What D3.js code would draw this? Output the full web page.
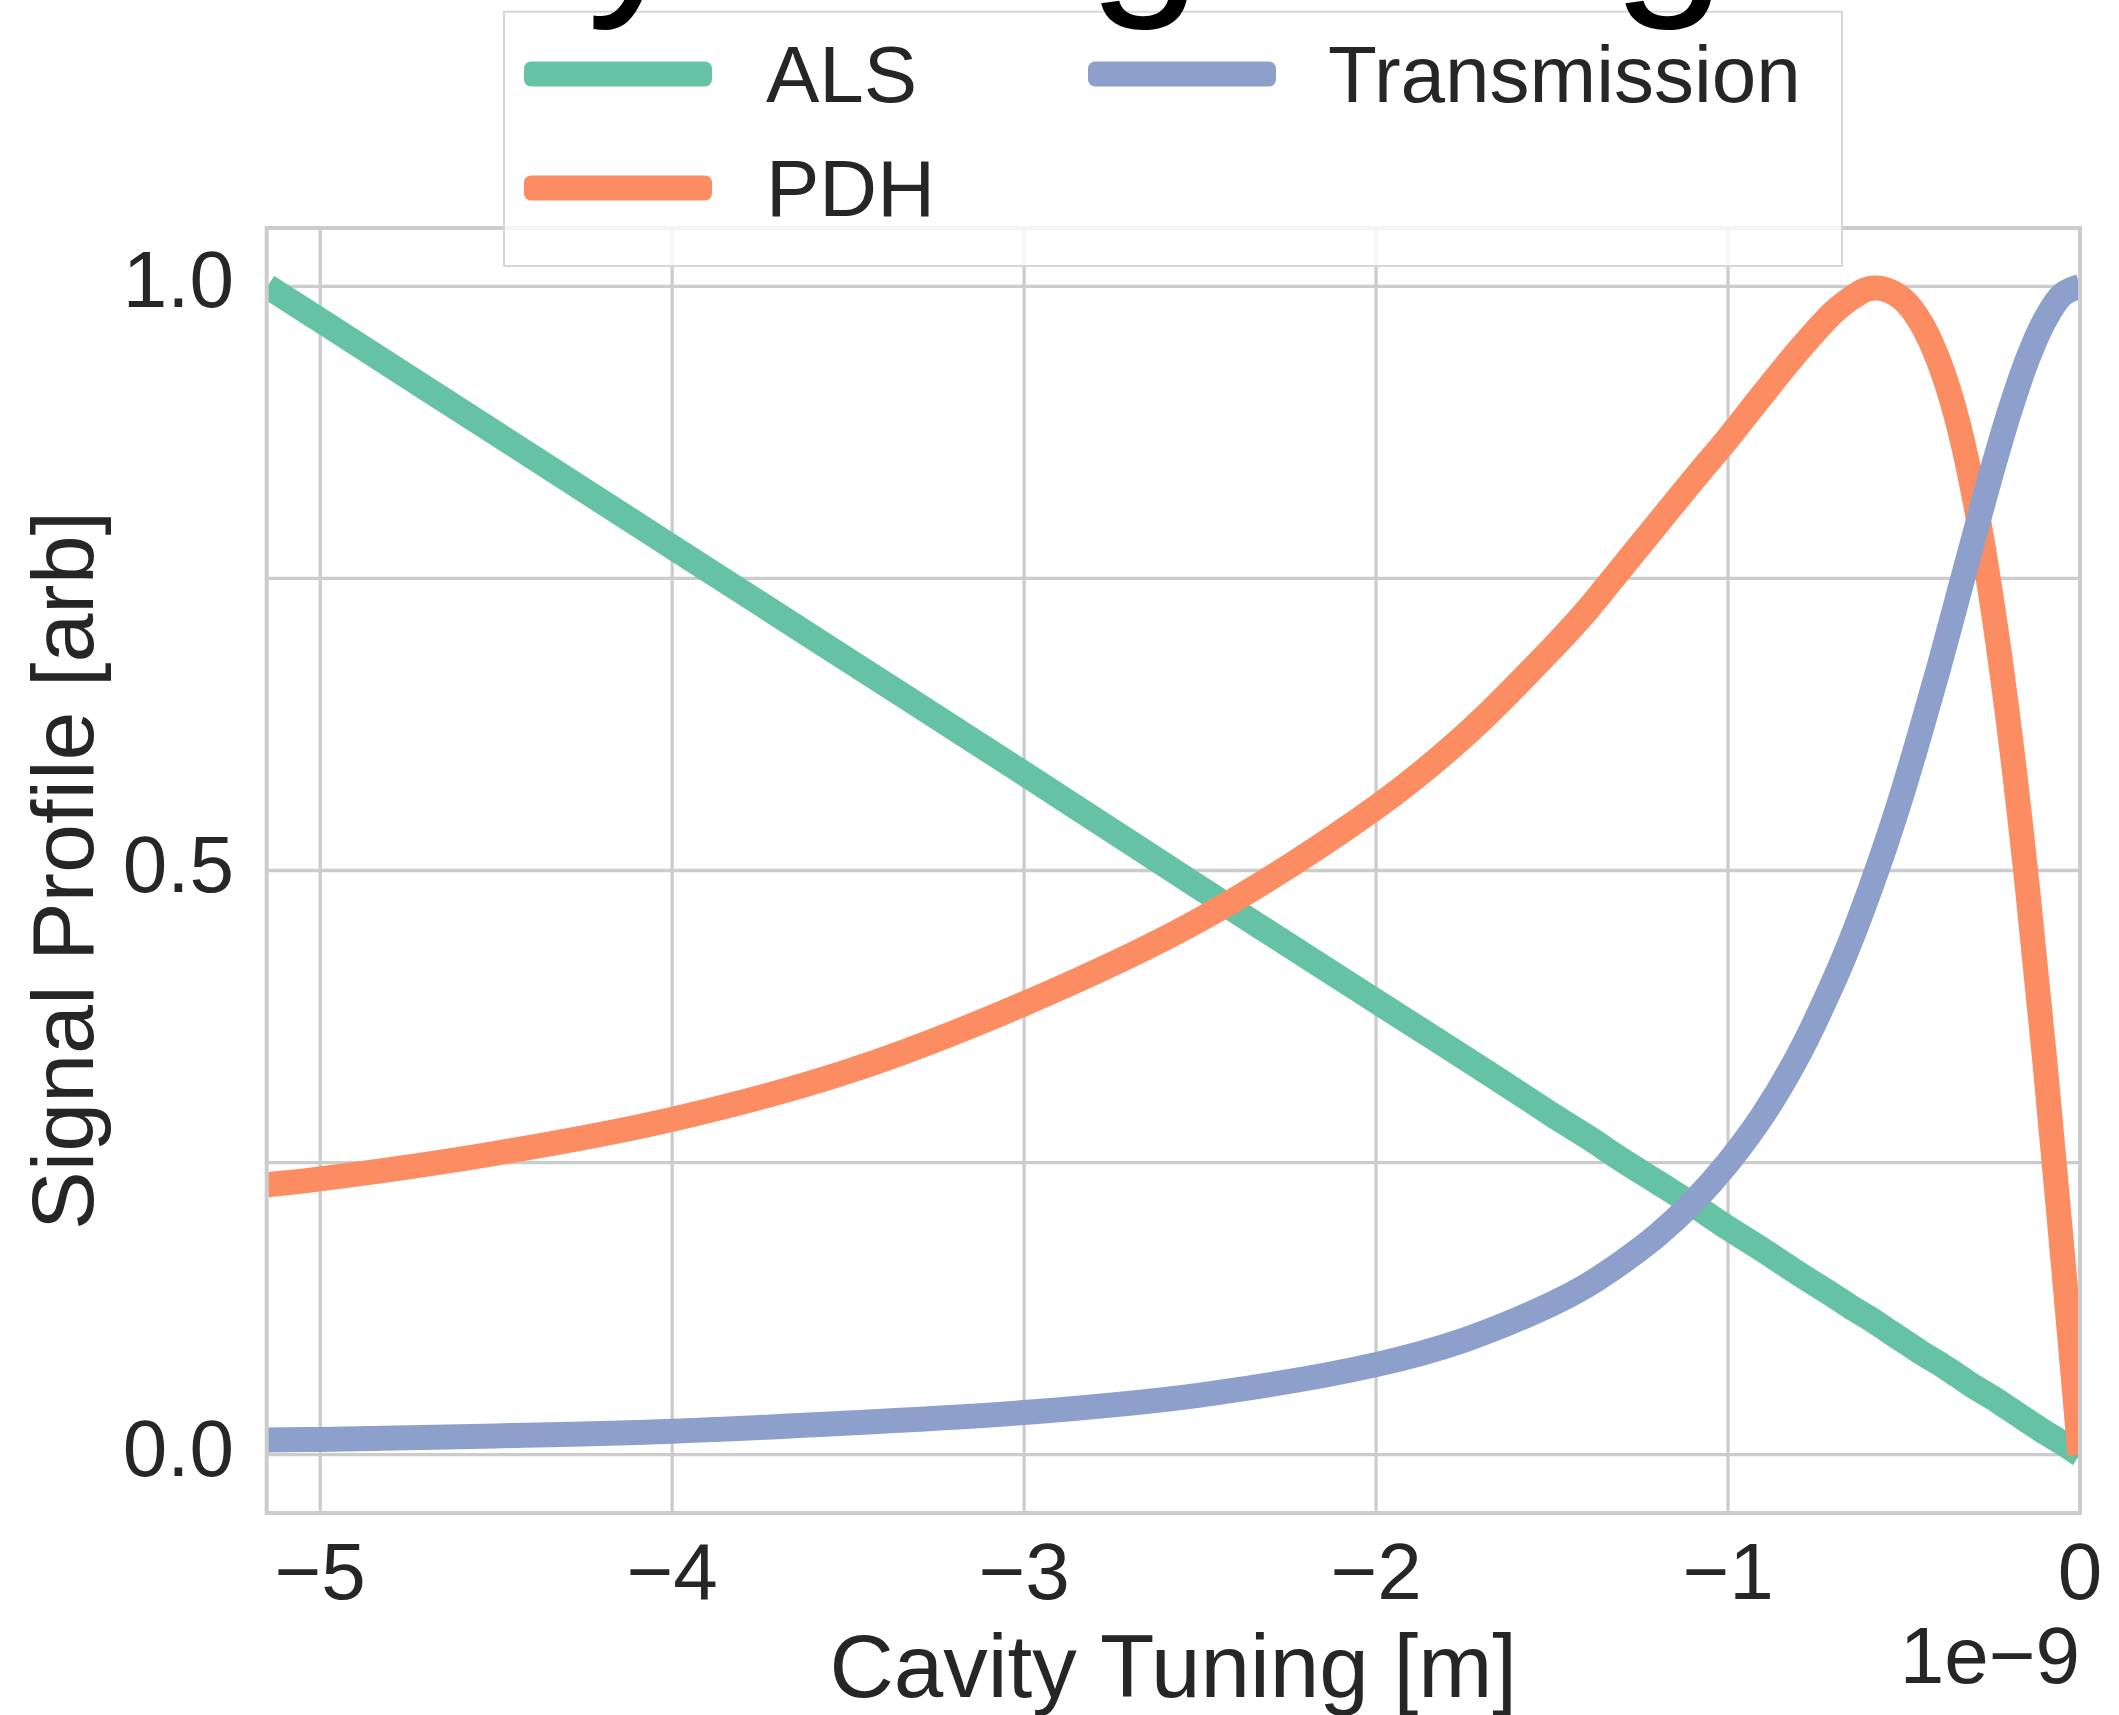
<!DOCTYPE html>
<html>
<head>
<meta charset="utf-8">
<script src="https://cdn.jsdelivr.net/npm/d3@7"></script>
<style>
  html, body { margin: 0; padding: 0; background: #ffffff; }
  svg { display: block; }
  text { font-family: "Liberation Sans", Arial, sans-serif; }
</style>
</head>
<body>
<svg id="chart" width="2119" height="1715"></svg>
<script>
// ---- data (x in units of 1e-9 m) ----
const tuning = [-5.15, -5, -4.5, -4, -3.5, -3, -2.5, -2, -1.75, -1.5, -1.4, -1.3, -1.2, -1.1, -1, -0.9, -0.8, -0.7, -0.65, -0.6, -0.55, -0.5, -0.45, -0.4, -0.35, -0.3, -0.25, -0.2, -0.15, -0.1, -0.05, 0];
const alsValues = [1.0, 0.971, 0.874, 0.777, 0.680, 0.583, 0.485, 0.388, 0.340, 0.291, 0.272, 0.252, 0.233, 0.214, 0.194, 0.175, 0.155, 0.136, 0.126, 0.117, 0.107, 0.097, 0.087, 0.078, 0.068, 0.058, 0.049, 0.039, 0.029, 0.019, 0.010, 0.0];
const pdhValues = [0.231, 0.236, 0.258, 0.287, 0.328, 0.386, 0.458, 0.554, 0.615, 0.690, 0.723, 0.760, 0.797, 0.834, 0.870, 0.908, 0.945, 0.978, 0.990, 0.998, 0.997, 0.988, 0.968, 0.935, 0.887, 0.819, 0.729, 0.619, 0.487, 0.337, 0.172, 0.0];
const transValues = [0.0124, 0.013, 0.016, 0.020, 0.027, 0.036, 0.051, 0.077, 0.098, 0.129, 0.145, 0.165, 0.188, 0.216, 0.250, 0.291, 0.342, 0.405, 0.441, 0.481, 0.524, 0.571, 0.622, 0.675, 0.731, 0.787, 0.842, 0.893, 0.937, 0.971, 0.993, 1.0];
const seriesNames = ["ALS", "PDH", "Transmission"];
const seriesColors = ["#66c2a5", "#fc8d62", "#8da0cb"];
const xTicks = [-5, -4, -3, -2, -1, 0];
const yGridTicks = [0, 0.25, 0.5, 0.75, 1.0];
const yLabelTicks = [0, 0.5, 1.0];
const titleText = "Cavity Length Signals";
const xLabelText = "Cavity Tuning [m]";
const yLabelText = "Signal Profile [arb]";
const offsetText = "1e\u22129";

// ---- layout ----
const svg = d3.select("#chart");
const plotLeft = 266.7, plotRight = 2080, plotTop = 228, plotBottom = 1513;
const x = d3.scaleLinear().domain([-5.152, 0]).range([plotLeft, plotRight]);
const y = d3.scaleLinear().domain([-0.05, 1.05]).range([plotBottom, plotTop]);
const gridColor = "#cccccc";
const textColor = "#262626";

svg.append("rect").attr("width", 2119).attr("height", 1715).attr("fill", "#ffffff");

// grid
const grid = svg.append("g");
grid.selectAll("line.xg").data(xTicks).join("line")
  .attr("x1", d => x(d)).attr("x2", d => x(d))
  .attr("y1", plotTop).attr("y2", plotBottom)
  .attr("stroke", gridColor).attr("stroke-width", 3.3);
grid.selectAll("line.yg").data(yGridTicks).join("line")
  .attr("x1", plotLeft).attr("x2", plotRight)
  .attr("y1", d => y(d)).attr("y2", d => y(d))
  .attr("stroke", gridColor).attr("stroke-width", 3.3);

// clip
svg.append("clipPath").attr("id", "plotclip").append("rect")
  .attr("x", plotLeft).attr("y", plotTop).attr("width", plotRight - plotLeft).attr("height", plotBottom - plotTop);

const allSeries = [alsValues, pdhValues, transValues];
const line = d3.line()
  .x(d => x(d[0])).y(d => y(d[1]))
  .curve(d3.curveCatmullRom.alpha(0.5));

const plot = svg.append("g").attr("clip-path", "url(#plotclip)");
allSeries.forEach((vals, i) => {
  plot.append("path")
    .datum(tuning.map((t, k) => [t, vals[k]]))
    .attr("d", line)
    .attr("fill", "none")
    .attr("stroke", seriesColors[i])
    .attr("stroke-width", 25)
    .attr("stroke-linejoin", "round");
});

// spines
svg.append("rect")
  .attr("x", plotLeft).attr("y", plotTop).attr("width", plotRight - plotLeft).attr("height", plotBottom - plotTop)
  .attr("fill", "none").attr("stroke", gridColor).attr("stroke-width", 4);

// tick labels
svg.append("g").selectAll("text").data(xTicks).join("text")
  .attr("x", d => x(d)).attr("y", 1599)
  .attr("text-anchor", "middle")
  .attr("font-size", 80).attr("fill", textColor)
  .text(d => d === 0 ? "0" : d3.format("d")(d).replace("-", "\u2212"));

svg.append("g").selectAll("text").data(yLabelTicks).join("text")
  .attr("x", 234).attr("y", d => y(d) + 21)
  .attr("text-anchor", "end")
  .attr("font-size", 80).attr("fill", textColor)
  .text(d => d3.format(".1f")(d));

// axis labels
svg.append("text")
  .attr("x", (plotLeft + plotRight) / 2).attr("y", 1697)
  .attr("text-anchor", "middle").attr("font-size", 89).attr("fill", textColor)
  .text(xLabelText);

svg.append("text")
  .attr("transform", `translate(93, ${(plotTop + plotBottom) / 2}) rotate(-90)`)
  .attr("text-anchor", "middle").attr("font-size", 88).attr("fill", textColor)
  .text(yLabelText);

svg.append("text")
  .attr("x", plotRight).attr("y", 1683)
  .attr("text-anchor", "end").attr("font-size", 80).attr("fill", textColor)
  .text(offsetText);

// legend
const lg = svg.append("g");
lg.append("rect")
  .attr("x", 504).attr("y", 11.7).attr("width", 1842 - 504).attr("height", 266 - 11.7)
  .attr("fill", "#ffffff").attr("fill-opacity", 0.8)
  .attr("stroke", "#d6d6d6").attr("stroke-width", 2);
const legendItems = [
  { name: seriesNames[0], color: seriesColors[0], hx: 524, tx: 766, cy: 74 },
  { name: seriesNames[2], color: seriesColors[2], hx: 1088, tx: 1328, cy: 74 },
  { name: seriesNames[1], color: seriesColors[1], hx: 524, tx: 766, cy: 188 }
];
legendItems.forEach(it => {
  lg.append("rect")
    .attr("x", it.hx).attr("y", it.cy - 12.5).attr("width", 188).attr("height", 25)
    .attr("rx", 7).attr("fill", it.color);
  lg.append("text")
    .attr("x", it.tx).attr("y", it.cy + 28)
    .attr("font-size", 80).attr("fill", textColor)
    .text(it.name);
});

// title (mostly above the visible area, drawn over the legend)
svg.append("text")
  .attr("x", 1111).attr("y", -12)
  .attr("text-anchor", "middle").attr("font-size", 205).attr("fill", "#000000")
  .text(titleText);
</script>
</body>
</html>
